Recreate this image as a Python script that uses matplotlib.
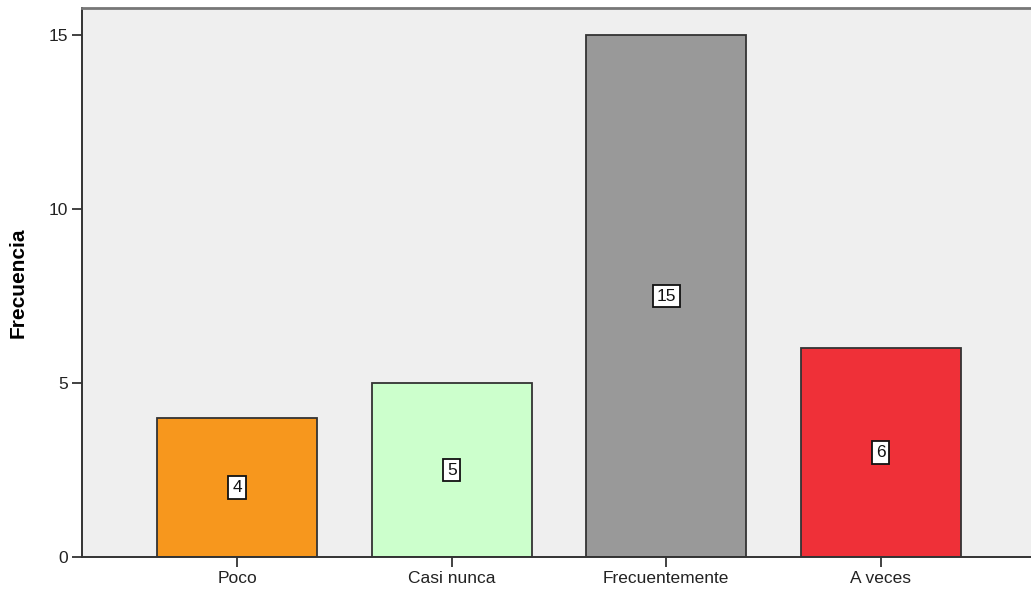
import matplotlib
matplotlib.use("Agg")
import matplotlib.pyplot as plt

categories = ["Poco", "Casi nunca", "Frecuentemente", "A veces"]
counts = [4, 5, 15, 6]
bar_colors = ["#F7971D", "#CCFFCC", "#999999", "#EF3038"]
y_ticks = [0, 5, 10, 15]

plt.rcParams["font.family"] = ["Liberation Sans", "DejaVu Sans"]

fig = plt.figure(figsize=(10.31, 5.93), dpi=100)
# right edge of the plot area is cut off in the original
ax = fig.add_axes([82 / 1031, 36 / 593, 1 - 82 / 1031, 549 / 593])
ax.set_facecolor("#EFEFEF")

x = list(range(len(categories)))
bars = ax.bar(x, counts, width=0.746, color=bar_colors,
              edgecolor="#333333", linewidth=1.3, zorder=2)

for xi, v in zip(x, counts):
    ax.text(xi, v / 2, str(v), ha="center", va="center", fontsize=12.5,
            color="#111111", zorder=3,
            bbox=dict(boxstyle="square,pad=0.22", facecolor="white",
                      edgecolor="#111111", linewidth=1.3))

ax.set_xlim(-0.723, 3.70)
ax.set_ylim(0, 15.78)
ax.set_xticks(x)
ax.set_xticklabels(categories, fontsize=12.5, color="#222222")
ax.set_yticks(y_ticks)
ax.set_yticklabels([str(t) for t in y_ticks], fontsize=12.5, color="#222222")
ax.tick_params(axis="both", direction="out", length=7, width=1.3,
               color="#333333", pad=3)

ax.spines["right"].set_visible(False)
ax.spines["top"].set_color("#777777")
ax.spines["top"].set_linewidth(2)
for s in ("left", "bottom"):
    ax.spines[s].set_color("#333333")
    ax.spines[s].set_linewidth(1.4)

ax.set_ylabel("Frecuencia", fontsize=15, fontweight="bold")
ax.yaxis.set_label_coords(-54 / 949, 0.5)

fig.savefig("out.png", dpi=100)
